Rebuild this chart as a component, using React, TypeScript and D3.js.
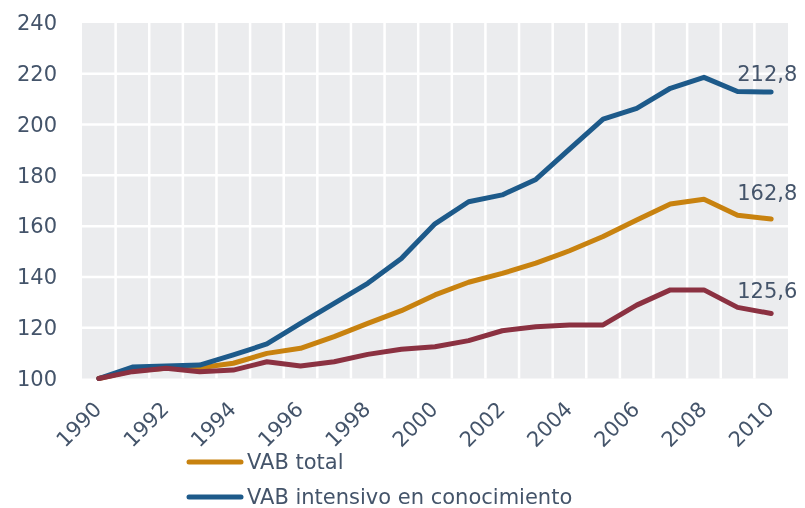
import React, { useEffect, useRef } from "react";
import * as d3 from "d3";

const years = d3.range(1990, 2011).map(String);
const vabTotal = [100, 103, 104, 104.2, 106, 109.9, 111.9, 116.5, 121.7, 126.7, 132.9, 137.9, 141.4, 145.4, 150.3, 155.9, 162.4, 168.7, 170.6, 164.3, 162.8];
const vabIntensivo = [100, 104.5, 104.9, 105.3, 109.3, 113.6, 121.7, 129.6, 137.5, 147.3, 160.9, 169.6, 172.3, 178.4, 190.3, 202.1, 206.4, 214.3, 218.6, 213.0, 212.8];
const vabOtro = [100, 102.7, 104, 102.7, 103.3, 106.6, 104.9, 106.6, 109.5, 111.5, 112.5, 114.9, 118.8, 120.4, 121.1, 121.1, 128.9, 134.9, 134.9, 128, 125.6];
const endLabels = ["162,8", "212,8", "125,6"];
const yTicks = [100, 120, 140, 160, 180, 200, 220, 240];
const legendNames = ["VAB total", "VAB intensivo en conocimiento"];

const colors = ["#c8820f", "#1d5a8a", "#8b3141"];
const textColor = "#44546a";
const font = "DejaVu Sans";
const fontSize = "21px";

function Chart() {
  const ref = useRef<SVGSVGElement>(null);

  useEffect(() => {
    const width = 805;
    const height = 508;
    const margin = { top: 23, right: 17, bottom: 129.5, left: 82 };

    const svg = d3.select(ref.current).attr("width", width).attr("height", height);
    svg.selectAll("*").remove();

    const x = d3.scaleBand().domain(years).range([margin.left, width - margin.right]);
    const y = d3.scaleLinear().domain([100, 240]).range([height - margin.bottom, margin.top]);
    const cx = (i: number) => (x(years[i]) as number) + x.bandwidth() / 2;

    // plot background
    svg.append("rect")
      .attr("x", margin.left).attr("y", margin.top)
      .attr("width", width - margin.left - margin.right)
      .attr("height", y(100) - y(240))
      .attr("fill", "#ebecee");

    // white grid
    svg.append("g").selectAll("line").data(yTicks.slice(1, -1)).enter()
      .append("line")
      .attr("x1", margin.left).attr("x2", width - margin.right)
      .attr("y1", d => y(d)).attr("y2", d => y(d))
      .attr("stroke", "#fff").attr("stroke-width", 2.5);
    svg.append("g").selectAll("line").data(years.slice(1)).enter()
      .append("line")
      .attr("x1", d => x(d) as number).attr("x2", d => x(d) as number)
      .attr("y1", y(240)).attr("y2", y(100))
      .attr("stroke", "#fff").attr("stroke-width", 2.5);

    // y labels
    svg.append("g").selectAll("text").data(yTicks).enter()
      .append("text")
      .attr("x", 57).attr("y", d => y(d)).attr("dy", "0.35em")
      .attr("text-anchor", "end")
      .style("font-family", font).style("font-size", fontSize)
      .attr("fill", textColor)
      .text(d => d);

    // x labels, every second year
    svg.append("g").selectAll("text").data(years.filter((d, i) => i % 2 === 0)).enter()
      .append("text")
      .attr("transform", d => `translate(${(x(d) as number) + x.bandwidth() / 2 + 4}, ${y(100) + 32}) rotate(-45)`)
      .attr("text-anchor", "end")
      .style("font-family", font).style("font-size", fontSize)
      .attr("fill", textColor)
      .text(d => d);

    const line = d3.line<number>().x((d, i) => cx(i)).y(d => y(d));
    [vabTotal, vabIntensivo, vabOtro].forEach((s, k) => {
      svg.append("path")
        .attr("d", line(s))
        .attr("fill", "none")
        .attr("stroke", colors[k])
        .attr("stroke-width", 5)
        .attr("stroke-linejoin", "round")
        .attr("stroke-linecap", "round");

      const last = s.length - 1;
      svg.append("text")
        .attr("x", cx(last) - 34)
        .attr("y", y(s[last]) - [19, 11, 15][k])
        .style("font-family", font).style("font-size", fontSize)
        .attr("fill", textColor)
        .text(endLabels[k]);
    });

    // legend
    legendNames.forEach((name, k) => {
      const ly = 462 + k * 35;
      svg.append("line")
        .attr("x1", 189).attr("x2", 241).attr("y1", ly).attr("y2", ly)
        .attr("stroke", colors[k]).attr("stroke-width", 5)
        .attr("stroke-linecap", "round");
      svg.append("text")
        .attr("x", 247).attr("y", ly + 7)
        .style("font-family", font).style("font-size", fontSize)
        .attr("fill", textColor)
        .text(name);
    });
  }, []);

  return <svg ref={ref}></svg>;
}

export default function App() {
  return (
    <div style={{ position: "fixed", left: 0, top: 0 }}>
      <Chart />
    </div>
  );
}
